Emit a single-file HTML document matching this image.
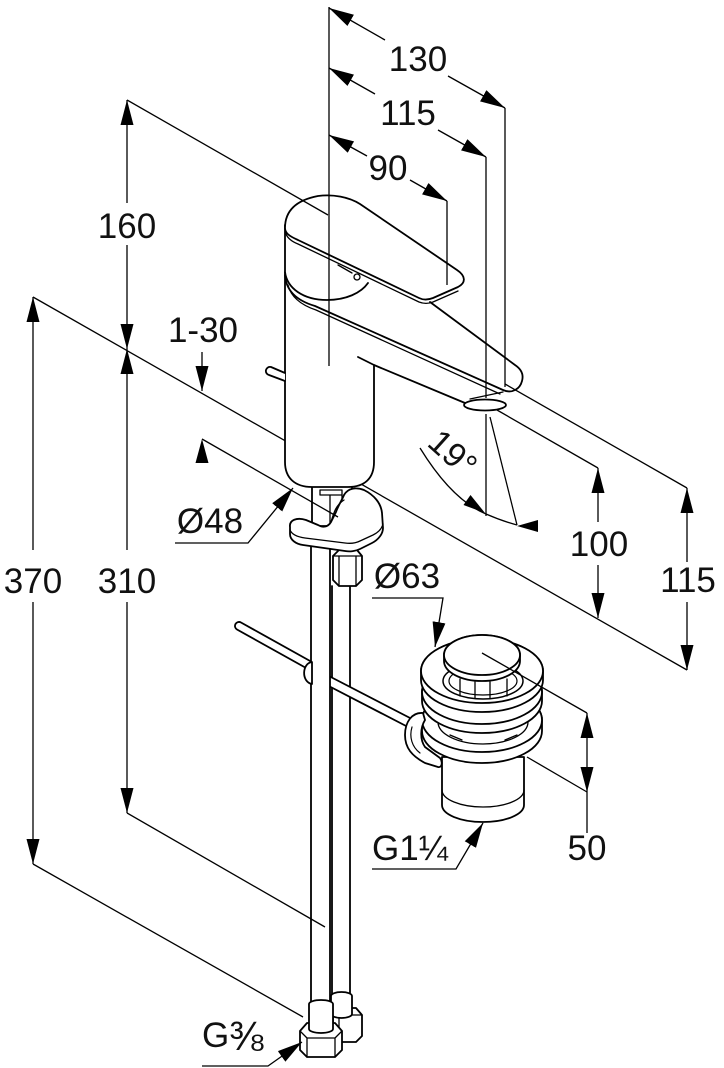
<!DOCTYPE html>
<html><head><meta charset="utf-8"><style>
html,body{margin:0;padding:0;background:#fff}
svg{display:block}
text{font-family:"Liberation Sans",Arial,sans-serif;font-size:35px;fill:#111}
</style></head><body>
<svg width="724" height="1068" viewBox="0 0 724 1068" xmlns="http://www.w3.org/2000/svg">
<defs>
<marker id="a" markerUnits="userSpaceOnUse" markerWidth="26" markerHeight="14" refX="25" refY="6.5" orient="auto-start-reverse" viewBox="0 0 26 13"><path d="M0,0 L25,6.5 L0,13 Z" fill="#000"/></marker>
</defs>
<rect width="724" height="1068" fill="#fff"/>

<!-- lines behind objects -->
<g stroke="#000" stroke-width="1.3" fill="none">
 <line x1="33" y1="297" x2="687" y2="670"/>
</g>

<!-- OBJECTS -->
<g stroke="#000" stroke-width="1.8" fill="#fff" stroke-linejoin="round" stroke-linecap="round">
 <!-- pipe B -->
 <path d="M332,586 V997 M350,586 V997" fill="none"/>
 <path d="M333,1015 L339,1008 L356,1008 L362,1015 L362,1036 L356,1042 L340,1042 L333,1036 Z"/>
 <path d="M339,1015 V1042 M333,1015 H362" fill="none" stroke-width="1.3"/>
 <path d="M331,996 L331,1014 A10.5,4 0 0 0 352,1014 L352,996 A10.5,4 0 0 0 331,996 Z"/>
 <!-- rod segment 2 -->
 <path d="M325,674 L412,719 C416,721 412,729 408,727 L321,682 Z"/>
 <!-- pipe A -->
 <rect x="311" y="540" width="19" height="463"/>
 <!-- rod segment 1 -->
 <path d="M311,661.5 L241,622.5 A4,4 0 0 0 237,629.5 L307,668.5 Z"/>
 <path d="M312,662 C302,663 301,682 312,684 Z"/>
 <!-- nut A -->
 <path d="M300,1031 L307,1023 L335,1023 L342,1031 L342,1050 L335,1057 L307,1057 L300,1050 Z"/>
 <path d="M300,1031 L307,1038 L335,1038 L342,1031 M307,1038 V1057 M335,1038 V1057" fill="none" stroke-width="1.3"/>
 <path d="M309,1004 L309,1029 A12,4 0 0 0 333,1029 L333,1004 A12,4 0 0 0 309,1004 Z"/>

 <!-- upper hex nut -->
 <path d="M333,556 L339,550 L357,550 L362,556 L362,580 L356,586 L339,586 L333,580 Z"/>
 <path d="M339,556 V586 M356,556 V586 M333,556 H362" fill="none" stroke-width="1.3"/>
 <!-- shank -->
 <rect x="312" y="484" width="40" height="42"/>
 <path d="M330,495 V526 M342,495 V526" fill="none" stroke-width="1.3"/>
 <rect x="320" y="490" width="22" height="5" stroke-width="1.3"/>
 <!-- horseshoe plate -->
 <path d="M290,527 C289,520 297,517 306,520 L318,525 C323,528 328,527 331,522 L336,512 C338,506 342,500 344,495 C348,488 356,487 364,490 C374,495 381,503 382,513 L383,528 C383,534 378,540 372,543 L360,549 C356,551 350,552 345,551 L303,545 C296,544 290,540 290,534 Z"/>
 <path d="M290,530 C292,535 298,537 305,538 L345,543 C352,544 356,543 360,541 L373,535 C379,532 382,528 383,524" fill="none" stroke-width="1.3"/>
 <path d="M331,522 C334,512 336,505 344,500" fill="none" stroke-width="1.3"/>

 <!-- body (fill only, then visible outline) -->
 <path d="M285,272 L285,462 C285,478 295,487 312,487 L348,487 C365,487 374,478 374,462 L374,365 L358,357 L360,300 Z" stroke="none"/>
 <path d="M285,272 L285,462 C285,478 295,487 312,487 L348,487 C365,487 374,478 374,462 L374,365 L358,357" fill="none"/>
 <!-- stub rod -->
 <path d="M285,373 L271,367 A4,4 0 0 0 269,375 L285,381" />
 <!-- spout -->
 <path d="M285,275 C286,292 298,301 315,306 L503,390 C512,394 520,389 522,381 C524,374 521,369 515,365 L430,302 L368,283 Z" stroke="none"/>
 <path d="M285,275 C286,292 298,301 315,306 L503,390 C512,394 520,389 522,381 C524,374 521,369 515,365 L430,302" fill="none"/>
 <path d="M288,285 C291,297 301,305 316,310 L500,394" fill="none" stroke-width="1.3"/>
 <path d="M374,365 L465,403" fill="none"/>
 <path d="M470,399 L503,392" fill="none" stroke-width="1.3"/>
 <ellipse cx="485" cy="405" rx="21" ry="5.5"/>
 <!-- lever cap -->
 <path d="M285,225 L285,272 C287,288 303,300 327,300 C346,300 361,293 368,283 L380,270 L300,225 Z" stroke="none"/>
 <path d="M285,225 L285,272 C287,288 303,300 327,300 C346,300 361,293 368,283" fill="none"/>
 <path d="M338,265 L352,273" fill="none" stroke-width="1.3"/>
 <circle cx="357" cy="277" r="3" stroke-width="1.3"/>
 <!-- lever plate -->
 <path d="M285,228 C285,210 297,200 318,196 C333,194 349,197 360,204 L457,270 C466,276 466,283 458,287 L433,298 C428,300 423,300 419,298 L298,240 C289,236 285,233 285,228 Z"/>
 <path d="M286,234 C288,239 293,242 298,244 L419,302 C424,304 428,304 433,302 L458,291" fill="none" stroke-width="1.3"/>

 <!-- DRAIN -->
 <path d="M442,757 L442,805 A41,17 0 0 0 524,805 L524,757 Z"/>
 <path d="M442,790 A41,17 0 0 0 524,790" fill="none" stroke-width="1.3"/>
 <!-- ring 3 -->
 <path d="M422,720 L422,731 A60,32 0 0 0 542,731 L542,720 A60,32 0 0 0 422,720 Z"/>
 <ellipse cx="482" cy="720" rx="60" ry="32"/>
 <ellipse cx="483" cy="722" rx="45" ry="22" stroke-width="1.3"/>
 <path d="M450,735 L462,740 M505,740 L517,735" fill="none" stroke-width="1.3"/>
 <!-- ring 2 -->
 <path d="M422,692 L422,701 A60,32 0 0 0 542,701 L542,692 A60,32 0 0 0 422,692 Z"/>
 <ellipse cx="482" cy="692" rx="60" ry="32"/>
 <!-- ring 1 flange -->
 <path d="M421,671 L421,680 A61,32 0 0 0 543,680 L543,671 A61,32 0 0 0 421,671 Z"/>
 <ellipse cx="482" cy="671" rx="61" ry="32"/>
 <ellipse cx="483" cy="681" rx="40" ry="18" stroke-width="1.5"/>
 <ellipse cx="483" cy="681" rx="34" ry="14" stroke-width="1.2"/>
 <path d="M460,679 V696 M475,682 V698 M490,682 V698 M507,679 V696" fill="none" stroke-width="1.3"/>
 <!-- cap -->
 <path d="M444,655 L444,661 A38,20 0 0 0 520,661 L520,655 A38,20 0 0 0 444,655 Z"/>
 <ellipse cx="482" cy="655" rx="38" ry="20"/>
 <!-- clip -->
 <path d="M423,713 C412,712 405,722 405,735 C405,748 412,756 425,763 L438,767 C442,768 443,762 440,758 L425,747 C420,740 420,728 425,720 Z"/>
 <path d="M412,727 C409,737 412,747 420,753" fill="none" stroke-width="1.2"/>
</g>

<!-- DIMENSION LINES on top -->
<g stroke="#000" stroke-width="1.3" fill="none">
 <path d="M329,7 V366"/>
 <path d="M329,8 L385,40" marker-start="url(#a)"/>
 <path d="M448,76 L505,108" marker-end="url(#a)"/>
 <path d="M329,68 L375,94" marker-start="url(#a)"/>
 <path d="M438,130 L486,157" marker-end="url(#a)"/>
 <path d="M329,135 L367,156" marker-start="url(#a)"/>
 <path d="M410,180 L447,201" marker-end="url(#a)"/>
 <path d="M505,108 V387"/>
 <path d="M486,157 V398"/>
 <path d="M486,414 V516"/>
 <path d="M447,201 V285"/>

 <path d="M127,203 V100" marker-end="url(#a)"/>
 <path d="M127,245 V349" marker-end="url(#a)"/>
 <path d="M127,100 L328,215"/>
 <path d="M127,550 V349" marker-end="url(#a)"/>
 <path d="M127,602 V813" marker-end="url(#a)"/>
 <path d="M33,550 V297" marker-end="url(#a)"/>
 <path d="M33,602 V864" marker-end="url(#a)"/>
 <path d="M127,813 L325,927"/>
 <path d="M33,864 L303,1017"/>

 <path d="M202,352 V391" marker-end="url(#a)"/>
 <path d="M202,439 L338,517"/>

 <path d="M505,384 L687,488"/>
 <path d="M497,410 L598,468"/>
 <path d="M598,522 V468" marker-end="url(#a)"/>
 <path d="M598,565 V618" marker-end="url(#a)"/>
 <path d="M687,562 V488" marker-end="url(#a)"/>
 <path d="M687,602 V670" marker-end="url(#a)"/>

 <path d="M490,417 L517,525"/>
 <path d="M420,448 Q452,500 486,514 Q502,521 517,525"/>

 <path d="M482,653 L587,713"/>
 <path d="M527,757 L587,792"/>
 <path d="M587,713 L587,792" marker-start="url(#a)" marker-end="url(#a)"/>
 <path d="M587,792 V833"/>

 <path d="M175,543 H248 L293,488" marker-end="url(#a)"/>
 <path d="M372,598 H443 L435,647" marker-end="url(#a)"/>
 <path d="M372,869 H456 L483,823" marker-end="url(#a)"/>
 <path d="M202,1066 H268 L302,1042" marker-end="url(#a)"/>
</g>
<g fill="#000" stroke="none">
 <polygon points="202,439 195.5,463 208.5,463"/>
 <polygon points="485,513 463.5,505 470.5,495"/>
 <polygon points="517,526 538,520 538,532"/>
</g>

<!-- TEXT -->
<text x="418" y="71" text-anchor="middle">130</text>
<text x="408" y="125" text-anchor="middle">115</text>
<text x="388" y="180" text-anchor="middle">90</text>
<text x="127" y="238" text-anchor="middle">160</text>
<text x="203" y="342" text-anchor="middle">1-30</text>
<text x="33" y="593" text-anchor="middle">370</text>
<text x="127" y="593" text-anchor="middle">310</text>
<text x="210" y="533" text-anchor="middle">Ø48</text>
<text x="407" y="588" text-anchor="middle">Ø63</text>
<text x="599" y="556" text-anchor="middle">100</text>
<text x="688" y="592" text-anchor="middle">115</text>
<text x="587" y="860" text-anchor="middle">50</text>
<text x="372" y="860">G1¼</text>
<text x="202" y="1047">G<tspan style="font-size:41px" dy="3">⅜</tspan></text>
<text transform="translate(453,453) rotate(42)" text-anchor="middle" y="12" style="font-size:34px">19°</text>
</svg>
</body></html>
